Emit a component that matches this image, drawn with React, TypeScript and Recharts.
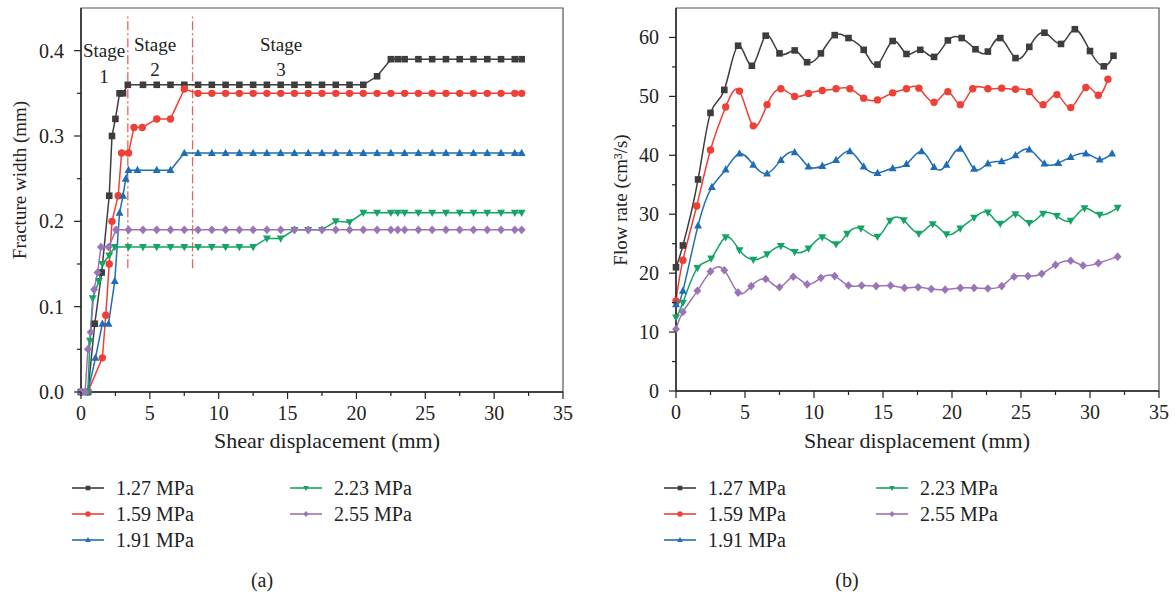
import React from "react";
import { LineChart, Line, XAxis, YAxis, ReferenceLine, ReferenceArea } from "recharts";

const seriesNames = ["1.27 MPa", "1.59 MPa", "1.91 MPa", "2.23 MPa", "2.55 MPa"];
const seriesColors = ["#3d3d3d", "#ee4036", "#1f6db5", "#14a463", "#9b74b7"];
const seriesShapes = ["square", "circle", "up", "down", "diamond"];

const xTicks = [0, 2.5, 5, 7.5, 10, 12.5, 15, 17.5, 20, 22.5, 25, 27.5, 30, 32.5, 35];
const widthTicks = [0, 0.05, 0.1, 0.15, 0.2, 0.25, 0.3, 0.35, 0.4];
const flowTicks = [0, 5, 10, 15, 20, 25, 30, 35, 40, 45, 50, 55, 60];
const stageLines = [3.4, 8.1];

// (a) fracture width vs shear displacement
const widthX127 = [0, 0.5, 1.0, 1.5, 2.05, 2.25, 2.5, 2.8, 3.05, 3.4, 4.5, 5.5, 6.5, 7.5, 8.5, 9.5, 10.5, 11.5, 12.5, 13.5, 14.5, 15.5, 16.5, 17.5, 18.5, 19.5, 20.5, 21.5, 22.5, 23, 23.5, 24.5, 25.5, 26.5, 27.5, 28.5, 29.5, 30.5, 31.5, 32];
const width127 = [0, 0, 0.08, 0.14, 0.23, 0.3, 0.32, 0.35, 0.35, 0.36, 0.36, 0.36, 0.36, 0.36, 0.36, 0.36, 0.36, 0.36, 0.36, 0.36, 0.36, 0.36, 0.36, 0.36, 0.36, 0.36, 0.36, 0.37, 0.39, 0.39, 0.39, 0.39, 0.39, 0.39, 0.39, 0.39, 0.39, 0.39, 0.39, 0.39];

const widthX159 = [0, 0.5, 1.55, 1.8, 2.05, 2.25, 2.7, 2.95, 3.45, 3.85, 4.45, 5.5, 6.5, 7.5, 8.5, 9.5, 10.5, 11.5, 12.5, 13.5, 14.5, 15.5, 16.5, 17.5, 18.5, 19.5, 20.5, 21.5, 22.5, 23.5, 24.5, 25.5, 26.5, 27.5, 28.5, 29.5, 30.5, 31.5, 32];
const width159 = [0, 0, 0.04, 0.09, 0.15, 0.2, 0.23, 0.28, 0.28, 0.31, 0.31, 0.32, 0.32, 0.355, 0.35, 0.35, 0.35, 0.35, 0.35, 0.35, 0.35, 0.35, 0.35, 0.35, 0.35, 0.35, 0.35, 0.35, 0.35, 0.35, 0.35, 0.35, 0.35, 0.35, 0.35, 0.35, 0.35, 0.35, 0.35];

const widthX191 = [0, 0.5, 1.05, 1.55, 2.0, 2.45, 2.8, 3.05, 3.25, 3.45, 4.1, 5.5, 6.5, 7.5, 8.5, 9.5, 10.5, 11.5, 12.5, 13.5, 14.5, 15.5, 16.5, 17.5, 18.5, 19.5, 20.5, 21.5, 22.5, 23.5, 24.5, 25.5, 26.5, 27.5, 28.5, 29.5, 30.5, 31.5, 32];
const width191 = [0, 0, 0.04, 0.08, 0.08, 0.13, 0.21, 0.23, 0.25, 0.26, 0.26, 0.26, 0.26, 0.28, 0.28, 0.28, 0.28, 0.28, 0.28, 0.28, 0.28, 0.28, 0.28, 0.28, 0.28, 0.28, 0.28, 0.28, 0.28, 0.28, 0.28, 0.28, 0.28, 0.28, 0.28, 0.28, 0.28, 0.28, 0.28];

const widthX223 = [0, 0.5, 0.65, 0.85, 1.3, 1.55, 2.05, 2.45, 3.45, 4.5, 5.5, 6.5, 7.5, 8.5, 9.5, 10.5, 11.5, 12.5, 13.5, 14.5, 15.5, 16.5, 17.5, 18.5, 19.5, 20.5, 21.5, 22.5, 23, 23.5, 24.5, 25.5, 26.5, 27.5, 28.5, 29.5, 30.5, 31.5, 32];
const width223 = [0, 0, 0.06, 0.11, 0.13, 0.15, 0.16, 0.17, 0.17, 0.17, 0.17, 0.17, 0.17, 0.17, 0.17, 0.17, 0.17, 0.17, 0.18, 0.18, 0.19, 0.19, 0.19, 0.2, 0.199, 0.21, 0.21, 0.21, 0.21, 0.21, 0.21, 0.21, 0.21, 0.21, 0.21, 0.21, 0.21, 0.21, 0.21];

const widthX255 = [0, 0.3, 0.5, 0.7, 0.95, 1.2, 1.45, 2.0, 2.55, 3.45, 4.5, 5.5, 6.5, 7.5, 8.5, 9.5, 10.5, 11.5, 12.5, 13.5, 14.5, 15.5, 16.5, 17.5, 18.5, 19.5, 20.5, 21.5, 22.5, 23, 23.5, 24.5, 25.5, 26.5, 27.5, 28.5, 29.5, 30.5, 31.5, 32];
const width255 = [0, 0, 0.05, 0.07, 0.12, 0.14, 0.17, 0.17, 0.19, 0.19, 0.19, 0.19, 0.19, 0.19, 0.19, 0.19, 0.19, 0.19, 0.19, 0.19, 0.19, 0.19, 0.19, 0.19, 0.19, 0.19, 0.19, 0.19, 0.19, 0.19, 0.19, 0.19, 0.19, 0.19, 0.19, 0.19, 0.19, 0.19, 0.19, 0.19];

// (b) flow rate vs shear displacement
const flowX127 = [0, 0.5, 1.6, 2.5, 3.5, 4.5, 5.5, 6.5, 7.5, 8.6, 9.5, 10.5, 11.5, 12.5, 13.6, 14.6, 15.7, 16.7, 17.7, 18.7, 19.7, 20.7, 21.7, 22.6, 23.5, 24.6, 25.6, 26.7, 27.9, 28.9, 30.0, 31.0, 31.7];
const flow127 = [21.0, 24.7, 35.9, 47.2, 51.1, 58.6, 55.2, 60.3, 57.3, 57.8, 55.8, 57.3, 60.4, 59.9, 57.9, 55.4, 59.4, 57.2, 57.9, 56.7, 59.5, 59.9, 58.0, 57.6, 59.9, 56.5, 58.4, 60.8, 58.9, 61.4, 57.7, 55.1, 56.9];

const flowX159 = [0, 0.5, 1.5, 2.5, 3.6, 4.6, 5.6, 6.6, 7.6, 8.6, 9.6, 10.6, 11.6, 12.6, 13.6, 14.6, 15.7, 16.7, 17.6, 18.7, 19.7, 20.6, 21.5, 22.6, 23.6, 24.6, 25.6, 26.6, 27.6, 28.6, 29.7, 30.6, 31.3];
const flow159 = [15.3, 22.2, 31.4, 40.9, 48.2, 50.9, 45.0, 48.6, 51.3, 50.0, 50.5, 51.0, 51.3, 51.3, 49.7, 49.4, 50.6, 51.3, 51.4, 49.0, 50.8, 48.6, 51.3, 51.3, 51.4, 51.2, 50.8, 48.6, 50.3, 48.1, 51.5, 50.2, 52.9];

const flowX191 = [0, 0.5, 1.6, 2.6, 3.6, 4.6, 5.6, 6.6, 7.6, 8.6, 9.6, 10.6, 11.6, 12.6, 13.6, 14.6, 15.7, 16.7, 17.8, 18.7, 19.6, 20.6, 21.6, 22.6, 23.6, 24.6, 25.6, 26.7, 27.7, 28.6, 29.7, 30.7, 31.6];
const flow191 = [14.7, 17.0, 28.1, 34.6, 37.6, 40.3, 38.4, 36.9, 39.2, 40.5, 38.1, 38.2, 39.2, 40.7, 38.1, 37.0, 37.8, 38.5, 40.7, 38.0, 38.4, 41.1, 37.7, 38.6, 39.0, 40.0, 41.0, 38.6, 38.7, 39.7, 40.3, 39.3, 40.3];

const flowX223 = [0, 0.5, 1.55, 2.55, 3.6, 4.6, 5.6, 6.6, 7.6, 8.6, 9.6, 10.6, 11.6, 12.4, 13.4, 14.6, 15.5, 16.5, 17.6, 18.6, 19.6, 20.6, 21.6, 22.6, 23.5, 24.6, 25.6, 26.6, 27.6, 28.6, 29.6, 30.7, 32.0];
const flow223 = [12.5, 15.0, 20.9, 22.5, 26.1, 23.9, 22.3, 23.2, 24.6, 23.6, 24.2, 26.1, 24.9, 26.7, 27.6, 26.2, 28.9, 29.0, 26.7, 28.3, 26.6, 27.6, 29.4, 30.3, 28.4, 30.0, 28.5, 30.1, 29.7, 28.9, 31.0, 29.9, 31.1];

const flowX255 = [0, 0.5, 1.55, 2.5, 3.5, 4.5, 5.45, 6.5, 7.5, 8.5, 9.5, 10.5, 11.5, 12.5, 13.45, 14.5, 15.55, 16.55, 17.55, 18.5, 19.5, 20.6, 21.6, 22.6, 23.6, 24.5, 25.5, 26.5, 27.5, 28.6, 29.5, 30.6, 32.0];
const flow255 = [10.5, 13.4, 17.0, 20.3, 20.5, 16.7, 17.8, 19.0, 17.6, 19.4, 18.1, 19.2, 19.5, 17.9, 17.9, 17.8, 17.9, 17.5, 17.6, 17.3, 17.2, 17.5, 17.5, 17.4, 17.8, 19.4, 19.5, 19.9, 21.4, 22.1, 21.3, 21.7, 22.8];

const zip = (xs: number[], ys: number[]) => xs.map((x, i) => ({ x, y: ys[i] }));

const widthSeries = [
  zip(widthX127, width127),
  zip(widthX159, width159),
  zip(widthX191, width191),
  zip(widthX223, width223),
  zip(widthX255, width255),
];
const flowSeries = [
  zip(flowX127, flow127),
  zip(flowX159, flow159),
  zip(flowX191, flow191),
  zip(flowX223, flow223),
  zip(flowX255, flow255),
];

const FONT = "Liberation Serif, DejaVu Serif, serif";
const AXIS = "#222";

function Marker({ cx, cy, shape, color, s = 3.3 }: any) {
  if (cx == null || cy == null) return null;
  if (shape === "square") return <rect x={cx - s} y={cy - s} width={2 * s} height={2 * s} fill={color} />;
  if (shape === "circle") return <circle cx={cx} cy={cy} r={s + 0.4} fill={color} />;
  if (shape === "up")
    return <path d={`M${cx},${cy - s * 1.3}L${cx + s * 1.2},${cy + s * 0.9}L${cx - s * 1.2},${cy + s * 0.9}Z`} fill={color} />;
  if (shape === "down")
    return <path d={`M${cx},${cy + s * 1.3}L${cx + s * 1.2},${cy - s * 0.9}L${cx - s * 1.2},${cy - s * 0.9}Z`} fill={color} />;
  return <path d={`M${cx},${cy - s * 1.3}L${cx + s * 1.2},${cy}L${cx},${cy + s * 1.3}L${cx - s * 1.2},${cy}Z`} fill={color} />;
}

const makeXTick = (axisY: number) => (p: any) => {
  const v = p.payload.value;
  const major = v % 5 === 0;
  return (
    <g>
      <line x1={p.x} x2={p.x} y1={axisY} y2={axisY + (major ? 7 : 4)} stroke={AXIS} strokeWidth={1.2} />
      {major && (
        <text x={p.x} y={axisY + 21} textAnchor="middle" dominantBaseline="central" fontSize={20} fill={AXIS} style={{ fontFamily: FONT }}>
          {v}
        </text>
      )}
    </g>
  );
};

const makeYTick = (axisX: number, step: number, fmt: (v: number) => string) => (p: any) => {
  const v = p.payload.value;
  const major = Math.abs(v / step - Math.round(v / step)) < 1e-6;
  return (
    <g>
      <line x1={axisX} x2={axisX - (major ? 7 : 4)} y1={p.y} y2={p.y} stroke={AXIS} strokeWidth={1.2} />
      {major && (
        <text x={axisX - 17} y={p.y} textAnchor="end" dominantBaseline="central" fontSize={20} fill={AXIS} style={{ fontFamily: FONT }}>
          {fmt(v)}
        </text>
      )}
    </g>
  );
};

function WidthChart() {
  return (
    <LineChart width={580} height={440} margin={{ top: 8, right: 17, bottom: 8, left: 0 }}>
      <ReferenceArea x1={0} x2={35} y1={0} y2={0.45} fill="none" stroke="#555" strokeWidth={1.2} />
      <XAxis
        dataKey="x"
        type="number"
        domain={[0, 35]}
        ticks={xTicks}
        interval={0}
        height={40}
        tickLine={false}
        stroke={AXIS}
        strokeWidth={1.4}
        tick={makeXTick(392)}
      />
      <YAxis
        dataKey="y"
        type="number"
        domain={[0, 0.45]}
        ticks={widthTicks}
        interval={0}
        width={81}
        tickLine={false}
        stroke={AXIS}
        strokeWidth={1.4}
        tick={makeYTick(81, 0.1, (v) => v.toFixed(1))}
      />
      {stageLines.map((x) => (
        <ReferenceLine
          key={x}
          segment={[{ x, y: 0.145 }, { x, y: 0.44 }]}
          stroke="#e8625a"
          strokeWidth={1.3}
          strokeDasharray="9 3 2 3"
        />
      ))}
      {widthSeries.map((d, i) => (
        <Line
          key={seriesNames[i]}
          data={d}
          dataKey="y"
          type="linear"
          stroke={seriesColors[i]}
          strokeWidth={1.5}
          isAnimationActive={false}
          dot={(p: any) => <Marker key={p.index} cx={p.cx} cy={p.cy} shape={seriesShapes[i]} color={seriesColors[i]} />}
        />
      ))}
    </LineChart>
  );
}

function FlowChart() {
  return (
    <LineChart width={595} height={440} margin={{ top: 8, right: 16, bottom: 9, left: 0 }}>
      <ReferenceArea x1={0} x2={35} y1={0} y2={65} fill="none" stroke="#555" strokeWidth={1.2} />
      <XAxis
        dataKey="x"
        type="number"
        domain={[0, 35]}
        ticks={xTicks}
        interval={0}
        height={40}
        tickLine={false}
        stroke={AXIS}
        strokeWidth={1.4}
        tick={makeXTick(391)}
      />
      <YAxis
        dataKey="y"
        type="number"
        domain={[0, 65]}
        ticks={flowTicks}
        interval={0}
        width={96}
        tickLine={false}
        stroke={AXIS}
        strokeWidth={1.4}
        tick={makeYTick(96, 10, (v) => String(v))}
      />
      {flowSeries.map((d, i) => (
        <Line
          key={seriesNames[i]}
          data={d}
          dataKey="y"
          type="natural"
          stroke={seriesColors[i]}
          strokeWidth={1.5}
          isAnimationActive={false}
          dot={(p: any) => <Marker key={p.index} cx={p.cx} cy={p.cy} shape={seriesShapes[i]} color={seriesColors[i]} />}
        />
      ))}
    </LineChart>
  );
}

function LegendBlock({ x0, x1 }: { x0: number; x1: number }) {
  const rows = [488, 514, 540];
  const cols = [x0, x1];
  return (
    <g>
      {seriesNames.map((name, i) => {
        const cx = cols[i < 3 ? 0 : 1];
        const cy = rows[i < 3 ? i : i - 3];
        return (
          <g key={name}>
            <line x1={cx} x2={cx + 32} y1={cy} y2={cy} stroke={seriesColors[i]} strokeWidth={1.6} />
            <Marker cx={cx + 16} cy={cy} shape={seriesShapes[i]} color={seriesColors[i]} s={2.3} />
            <text x={cx + 44} y={cy} dominantBaseline="central" fontSize={20} fill="#222">
              {name}
            </text>
          </g>
        );
      })}
    </g>
  );
}

export default function App() {
  return (
    <div style={{ position: "absolute", left: 0, top: 0, width: 1175, height: 594, background: "#fff", fontFamily: FONT }}>
      <div style={{ position: "absolute", left: 0, top: 0 }}>
        <WidthChart />
      </div>
      <div style={{ position: "absolute", left: 580, top: 0 }}>
        <FlowChart />
      </div>
      <svg width={1175} height={594} style={{ position: "absolute", left: 0, top: 0, pointerEvents: "none", fontFamily: FONT }}>
        <g fill="#222" fontSize={19} textAnchor="middle" dominantBaseline="central">
          <text x={104} y={50}>Stage</text>
          <text x={104} y={76}>1</text>
          <text x={155} y={44}>Stage</text>
          <text x={155} y={69}>2</text>
          <text x={281} y={44}>Stage</text>
          <text x={281} y={69}>3</text>
        </g>
        <g fill="#222" fontSize={22} textAnchor="middle" dominantBaseline="central">
          <text x={327} y={440}>Shear displacement (mm)</text>
          <text x={917} y={440}>Shear displacement (mm)</text>
          <text x={19} y={180} transform="rotate(-90 19 180)" fontSize={19}>Fracture width (mm)</text>
          <text x={620} y={200} transform="rotate(-90 620 200)" fontSize={19}>
            Flow rate (cm³/s)
          </text>
          <text x={262} y={580} fontSize={20}>(a)</text>
          <text x={847} y={580} fontSize={20}>(b)</text>
        </g>
        <LegendBlock x0={72} x1={290} />
        <LegendBlock x0={664} x1={876} />
      </svg>
    </div>
  );
}
